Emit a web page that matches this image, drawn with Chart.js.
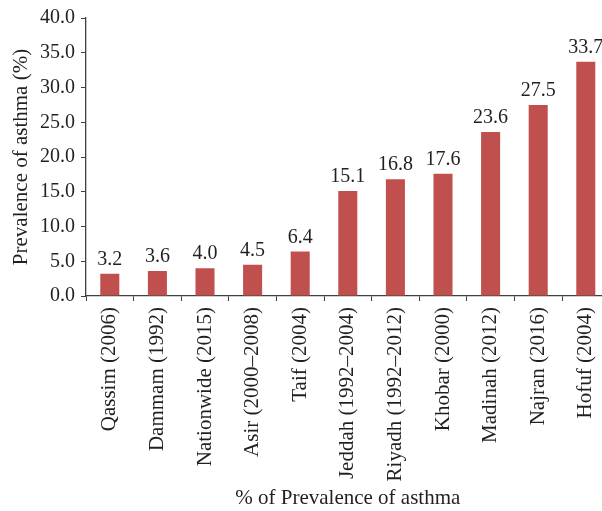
<!DOCTYPE html>
<html>
<head>
<meta charset="utf-8">
<script src="https://cdn.jsdelivr.net/npm/chart.js@4/dist/chart.umd.min.js"></script>
<style>
  html, body { margin: 0; padding: 0; background: #fff; overflow: hidden; }
  #wrap { position: absolute; left: 0; top: 0; width: 617px; height: 511px; }
</style>
</head>
<body>
<div id="wrap"><canvas id="chart" width="617" height="511"></canvas></div>
<script>
// Asthma prevalence by region
var regions = ['Qassim (2006)', 'Dammam (1992)', 'Nationwide (2015)', 'Asir (2000\u20132008)',
    'Taif (2004)', 'Jeddah (1992\u20132004)', 'Riyadh (1992\u20132012)', 'Khobar (2000)',
    'Madinah (2012)', 'Najran (2016)', 'Hofuf (2004)'];
var prevalence = [3.2, 3.6, 4.0, 4.5, 6.4, 15.1, 16.8, 17.6, 23.6, 27.5, 33.7];
var yTicks = [0, 5, 10, 15, 20, 25, 30, 35, 40];

var textColor = '#231f20';
var serif = 'Liberation Serif, Times New Roman, serif';

// value labels above the bars
var valueLabels = {
    id: 'valueLabels',
    afterDatasetsDraw: function(chart) {
        var ctx = chart.ctx;
        var meta = chart.getDatasetMeta(0);
        ctx.save();
        ctx.font = '20px ' + serif;
        ctx.fillStyle = textColor;
        ctx.textAlign = 'center';
        ctx.textBaseline = 'bottom';
        meta.data.forEach(function(bar, i) {
            ctx.fillText(prevalence[i].toFixed(1), bar.x, bar.y - 4);
        });
        ctx.restore();
    }
};

new Chart(document.getElementById('chart'), {
    type: 'bar',
    data: {
        labels: regions,
        datasets: [{
            data: prevalence,
            backgroundColor: '#c0504d',
            barPercentage: 0.4,
            categoryPercentage: 1.0
        }]
    },
    options: {
        responsive: false,
        animation: false,
        layout: { padding: { top: 15, left: 0, right: 0, bottom: 0 } },
        plugins: {
            legend: { display: false },
            tooltip: { enabled: false }
        },
        scales: {
            x: {
                grid: { drawOnChartArea: false, tickLength: 5, color: '#404040' },
                border: { color: '#404040', width: 1.3 },
                ticks: {
                    color: textColor,
                    font: { family: serif, size: 21 },
                    minRotation: 90,
                    maxRotation: 90,
                    autoSkip: false,
                    padding: 6
                },
                title: {
                    display: true,
                    text: '% of Prevalence of asthma',
                    color: textColor,
                    font: { family: serif, size: 21 },
                    padding: { top: 0, bottom: 0 }
                },
                afterFit: function(scale) { scale.height = 215; }
            },
            y: {
                min: 0,
                max: 40,
                afterBuildTicks: function(scale) {
                    scale.ticks = yTicks.map(function(v) { return { value: v }; });
                },
                grid: { drawOnChartArea: false, tickLength: 5, color: '#404040' },
                border: { color: '#404040', width: 1.3 },
                ticks: {
                    color: textColor,
                    font: { family: serif, size: 20 },
                    padding: 6,
                    callback: function(value) { return value.toFixed(1); }
                },
                title: {
                    display: true,
                    text: 'Prevalence of asthma (%)',
                    color: textColor,
                    font: { family: serif, size: 21 },
                    padding: { top: 9, bottom: 0 }
                },
                afterFit: function(scale) { scale.width = 86; }
            }
        }
    },
    plugins: [valueLabels]
});
</script>
</body>
</html>
